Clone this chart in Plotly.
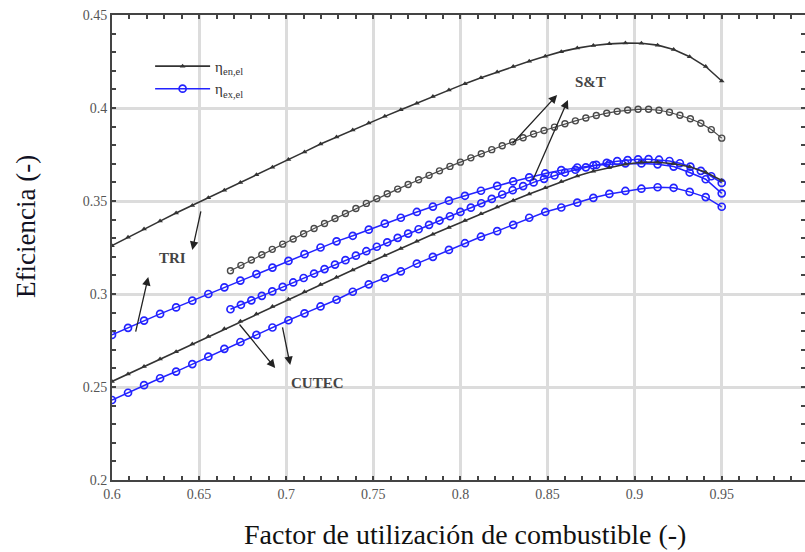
import plotly.graph_objects as go

# Fuel utilisation factor grids
phi = [0.6000, 0.6092, 0.6184, 0.6276, 0.6368, 0.6461, 0.6553, 0.6645, 0.6737, 0.6829,
       0.6921, 0.7013, 0.7105, 0.7197, 0.7289, 0.7382, 0.7474, 0.7566, 0.7658, 0.7750,
       0.7842, 0.7934, 0.8026, 0.8118, 0.8211, 0.8303, 0.8395, 0.8487, 0.8579, 0.8671,
       0.8763, 0.8855, 0.8947, 0.9039, 0.9132, 0.9224, 0.9316, 0.9408, 0.9500]

phi_st = [0.668, 0.674, 0.680, 0.686, 0.692, 0.698, 0.704, 0.710, 0.716, 0.722,
          0.728, 0.734, 0.740, 0.746, 0.752, 0.758, 0.764, 0.770, 0.776, 0.782,
          0.788, 0.794, 0.800, 0.806, 0.812, 0.818, 0.824, 0.830, 0.836, 0.842,
          0.848, 0.854, 0.860, 0.866, 0.872, 0.878, 0.884, 0.890, 0.896, 0.902,
          0.908, 0.914, 0.920, 0.926, 0.932, 0.938, 0.944, 0.950]

# TRI
tri_en = [0.3260, 0.3305, 0.3349, 0.3392, 0.3435, 0.3476, 0.3517, 0.3558, 0.3600, 0.3641,
          0.3682, 0.3723, 0.3764, 0.3806, 0.3844, 0.3882, 0.3920, 0.3955, 0.3990, 0.4026,
          0.4062, 0.4097, 0.4131, 0.4163, 0.4194, 0.4223, 0.4251, 0.4278, 0.4303, 0.4322,
          0.4336, 0.4345, 0.4349, 0.4348, 0.4338, 0.4315, 0.4276, 0.4223, 0.4145]
tri_ex = [0.2780, 0.2818, 0.2857, 0.2893, 0.2928, 0.2964, 0.3000, 0.3036, 0.3072, 0.3107,
          0.3142, 0.3178, 0.3214, 0.3250, 0.3283, 0.3313, 0.3346, 0.3378, 0.3410, 0.3441,
          0.3470, 0.3502, 0.3528, 0.3555, 0.3581, 0.3605, 0.3627, 0.3648, 0.3666, 0.3680,
          0.3691, 0.3698, 0.3702, 0.3702, 0.3697, 0.3685, 0.3653, 0.3617, 0.3541]

# S&T
st_en = [0.3125, 0.3154, 0.3183, 0.3211, 0.3240, 0.3268, 0.3296, 0.3324, 0.3352, 0.3379,
         0.3406, 0.3433, 0.3460, 0.3487, 0.3513, 0.3539, 0.3564, 0.3589, 0.3614, 0.3638,
         0.3662, 0.3686, 0.3709, 0.3732, 0.3754, 0.3776, 0.3797, 0.3818, 0.3840, 0.3860,
         0.3879, 0.3897, 0.3915, 0.3931, 0.3946, 0.3960, 0.3972, 0.3982, 0.3989, 0.3993,
         0.3993, 0.3988, 0.3977, 0.3961, 0.3942, 0.3918, 0.3884, 0.3838]
st_ex = [0.2918, 0.2942, 0.2966, 0.2990, 0.3014, 0.3038, 0.3062, 0.3086, 0.3110, 0.3134,
         0.3158, 0.3182, 0.3206, 0.3230, 0.3254, 0.3278, 0.3302, 0.3325, 0.3348, 0.3372,
         0.3395, 0.3418, 0.3441, 0.3464, 0.3488, 0.3511, 0.3535, 0.3558, 0.3580, 0.3600,
         0.3619, 0.3637, 0.3653, 0.3668, 0.3681, 0.3694, 0.3705, 0.3714, 0.3720, 0.3724,
         0.3725, 0.3722, 0.3715, 0.3703, 0.3685, 0.3662, 0.3633, 0.3597]

# CUTEC
cutec_en = [0.2530, 0.2570, 0.2610, 0.2650, 0.2690, 0.2731, 0.2772, 0.2813, 0.2853, 0.2893,
            0.2933, 0.2972, 0.3012, 0.3051, 0.3090, 0.3129, 0.3168, 0.3207, 0.3245, 0.3283,
            0.3321, 0.3358, 0.3395, 0.3432, 0.3468, 0.3503, 0.3538, 0.3571, 0.3605, 0.3634,
            0.3660, 0.3680, 0.3698, 0.3708, 0.3708, 0.3700, 0.3684, 0.3655, 0.3610]
cutec_ex = [0.2430, 0.2469, 0.2510, 0.2547, 0.2583, 0.2623, 0.2663, 0.2705, 0.2742, 0.2780,
            0.2820, 0.2859, 0.2896, 0.2933, 0.2969, 0.3012, 0.3052, 0.3086, 0.3122, 0.3163,
            0.3200, 0.3237, 0.3273, 0.3308, 0.3338, 0.3372, 0.3410, 0.3441, 0.3465, 0.3491,
            0.3517, 0.3538, 0.3554, 0.3566, 0.3574, 0.3571, 0.3549, 0.3521, 0.3469]

x_ticks = [0.6, 0.65, 0.7, 0.75, 0.8, 0.85, 0.9, 0.95]
x_tick_text = ["0.6", "0.65", "0.7", "0.75", "0.8", "0.85", "0.9", "0.95"]
y_ticks = [0.2, 0.25, 0.3, 0.35, 0.4, 0.45]
y_tick_text = ["0.2", "0.25", "0.3", "0.35", "0.4", "0.45"]

BLACK = "#333333"
BLUE = "#2323ff"
SERIF = "Liberation Serif, Times New Roman, serif"

fig = go.Figure()


def black_small(x, y, name, show):
    fig.add_trace(go.Scatter(
        x=x, y=y, mode="lines+markers", name=name, showlegend=show,
        line=dict(color=BLACK, width=1.6),
        marker=dict(symbol="triangle-up", size=5, color=BLACK)))


def black_open(x, y):
    fig.add_trace(go.Scatter(
        x=x, y=y, mode="lines+markers", showlegend=False,
        line=dict(color="#4a4a4a", width=1.2),
        marker=dict(symbol="circle-open", size=6, color="#4a4a4a",
                    line=dict(width=1.4, color="#4a4a4a"))))


def blue_open(x, y, name, show):
    fig.add_trace(go.Scatter(
        x=x, y=y, mode="lines+markers", name=name, showlegend=show,
        line=dict(color=BLUE, width=1.5),
        marker=dict(symbol="circle-open", size=7, color=BLUE,
                    line=dict(width=1.7, color=BLUE))))


black_small(phi, tri_en, "η<sub>en,el</sub>", True)
blue_open(phi, tri_ex, "η<sub>ex,el</sub>", True)
black_open(phi_st, st_en)
blue_open(phi_st, st_ex, "", False)
black_small(phi, cutec_en, "", False)
blue_open(phi, cutec_ex, "", False)

# Labels with arrows: (text x, text y, [(tail x, tail y, head x, head y), ...])
labels = [
    ("TRI", 0.6346, 0.3194, [(0.6512, 0.3452, 0.6461, 0.3237),
                             (0.6134, 0.2790, 0.6208, 0.3091)]),
    ("CUTEC", 0.7177, 0.2522, [(0.6725, 0.2844, 0.6937, 0.2602),
                               (0.6977, 0.2828, 0.7023, 0.2618)]),
    ("S&T", 0.8744, 0.4140, [(0.8291, 0.3801, 0.8555, 0.4070),
                             (0.8411, 0.3602, 0.8617, 0.4043)]),
]
for text, tx, ty, arrows in labels:
    fig.add_annotation(x=tx, y=ty, text="<b>" + text + "</b>", showarrow=False,
                       font=dict(family=SERIF, size=15, color="#444444"))
    for x0, y0, x1, y1 in arrows:
        fig.add_annotation(x=x1, y=y1, ax=x0, ay=y0, xref="x", yref="y",
                           axref="x", ayref="y", text="", showarrow=True,
                           arrowhead=2, arrowsize=1.3, arrowwidth=1.3,
                           arrowcolor="#222222")

# Axis titles
fig.add_annotation(x=0.51, y=-0.118, xref="paper", yref="paper",
                   xanchor="center", yanchor="middle", showarrow=False,
                   text="Factor de utilización de combustible (-)",
                   font=dict(family=SERIF, size=28, color="#111111"))
fig.add_annotation(x=-0.125, y=0.545, xref="paper", yref="paper",
                   xanchor="center", yanchor="middle", showarrow=False,
                   textangle=-90, text="Eficiencia (-)",
                   font=dict(family=SERIF, size=27, color="#111122"))

axis_common = dict(
    showline=True, linecolor="#444444", linewidth=2, mirror="ticks",
    showgrid=True, gridcolor="#dcdcdc", gridwidth=2.5,
    ticks="inside", ticklen=3, tickwidth=2, tickcolor="#444444",
    zeroline=False, automargin=False,
    tickfont=dict(family=SERIF, size=14, color="#555555"),
)

fig.update_layout(
    width=805, height=552,
    margin=dict(l=112, r=0, t=15, b=72),
    paper_bgcolor="white", plot_bgcolor="white",
    xaxis=dict(range=[0.6, 0.9978], tickvals=x_ticks, ticktext=x_tick_text,
               minor=dict(dtick=0.01, tick0=0.6, ticks="inside", ticklen=4,
                          tickwidth=2, tickcolor="#444444", showgrid=False),
               **axis_common),
    yaxis=dict(range=[0.2, 0.45], tickvals=y_ticks, ticktext=y_tick_text,
               minor=dict(dtick=0.01, tick0=0.2, ticks="inside", ticklen=4,
                          tickwidth=2, tickcolor="#444444", showgrid=False),
               **axis_common),
    legend=dict(x=0.055, y=0.925, xanchor="left", yanchor="top",
                bgcolor="rgba(0,0,0,0)", itemwidth=55,
                font=dict(family=SERIF, size=15, color="#333333"),
                tracegroupgap=2),
    showlegend=True,
)

fig.write_html("out.html")
